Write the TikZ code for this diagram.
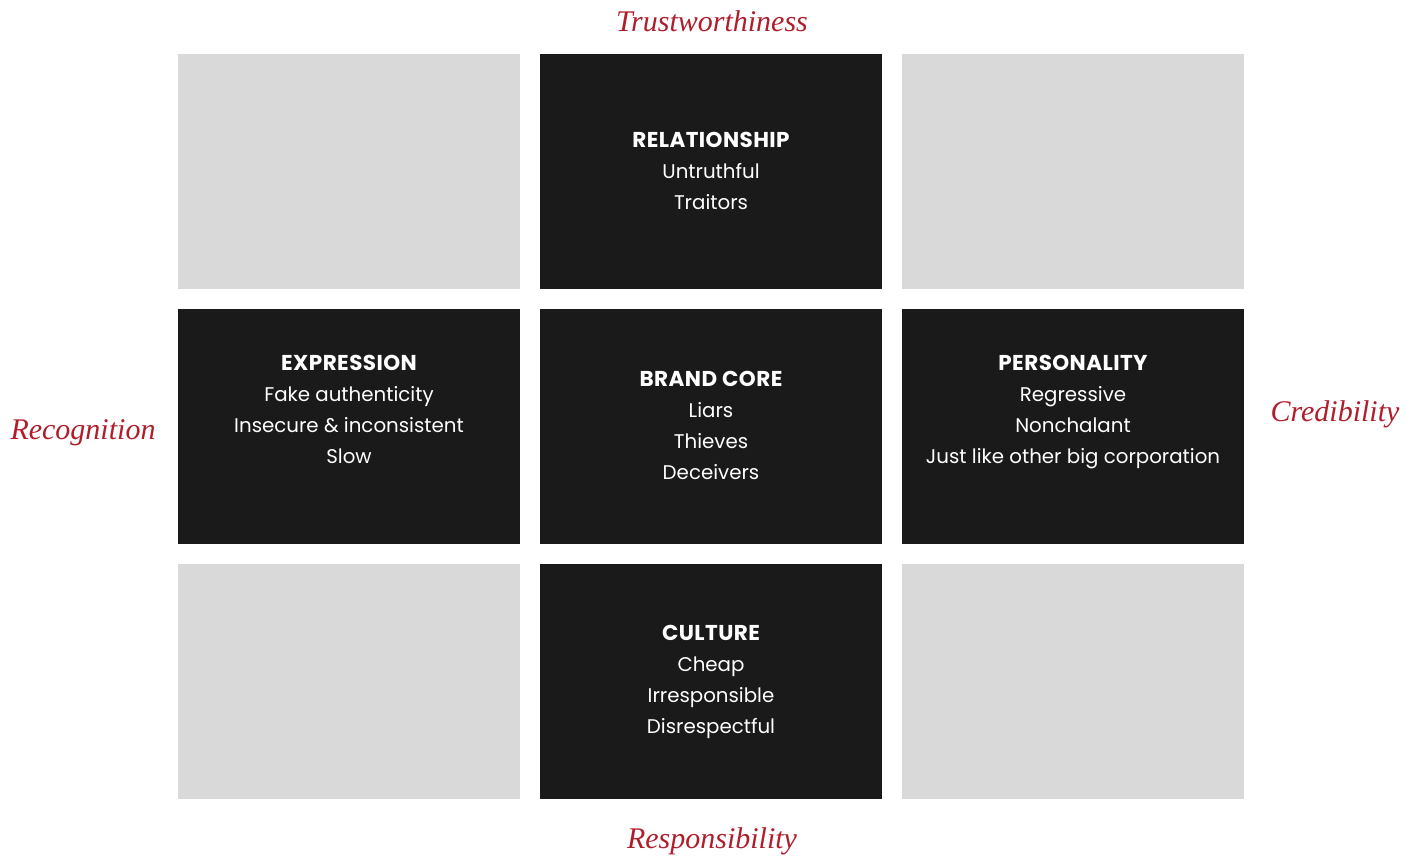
\documentclass[tikz,border=0pt]{standalone}
\usepackage{fontspec}
\setmainfont{Liberation Serif}
\newfontfamily\boxfont{Poppins}
\newfontfamily\boxfontbold[LetterSpace=2]{Poppins Bold}
\definecolor{cellgrey}{HTML}{D9D9D9}
\definecolor{celldark}{HTML}{1A1A1A}
\definecolor{axisred}{HTML}{B01E2C}
\tikzset{
  cell/.style={minimum width=342pt, minimum height=235pt, inner sep=0pt, outer sep=0pt},
  greycell/.style={cell, fill=cellgrey},
  darkcell/.style={cell, fill=celldark},
  cellText/.style={text=white, align=center, font=\boxfont\fontsize{19.8}{31}\selectfont, inner sep=0pt},
  axislabel/.style={text=axisred, font=\itshape\fontsize{30}{32}\selectfont, inner sep=0pt}
}
\newcommand{\cellhead}[1]{{\boxfontbold\fontsize{21.5}{31}\selectfont #1}}
\begin{document}
\begin{tikzpicture}[x=1pt,y=-1pt]
\useasboundingbox (0,0) rectangle (1418,856);
% grid of cells
\node[greycell] (tl) at (349,171.5) {};
\node[darkcell] (tc) at (711,171.5) {};
\node[greycell] (tr) at (1073,171.5) {};
\node[darkcell] (ml) at (349,426.5) {};
\node[darkcell] (mc) at (711,426.5) {};
\node[darkcell] (mr) at (1073,426.5) {};
\node[greycell] (bl) at (349,681.5) {};
\node[darkcell] (bc) at (711,681.5) {};
\node[greycell] (br) at (1073,681.5) {};
% cell texts
\node[cellText] (relText) at (711,171) {\cellhead{RELATIONSHIP}\\Untruthful\\Traitors};
\node[cellText] (expText) at (349,409.5) {\cellhead{EXPRESSION}\\Fake authenticity\\Insecure \& inconsistent\\Slow};
\node[cellText] (coreText) at (711,425.5) {\cellhead{BRAND CORE}\\Liars\\Thieves\\Deceivers};
\node[cellText] (perText) at (1073,412.5) {\cellhead{PERSONALITY}\\Regressive\\Nonchalant\\Just like other big corporation};
\node[cellText] (culText) at (711,682) {\cellhead{CULTURE}\\Cheap\\Irresponsible\\Disrespectful};
% axis labels
\node[axislabel] (trust) at (712,21) {Trustworthiness};
\node[axislabel] (recog) at (83,433) {Recognition};
\node[axislabel] (cred) at (1335,414) {Credibility};
\node[axislabel] (resp) at (712,841) {Responsibility};
\end{tikzpicture}
\end{document}
